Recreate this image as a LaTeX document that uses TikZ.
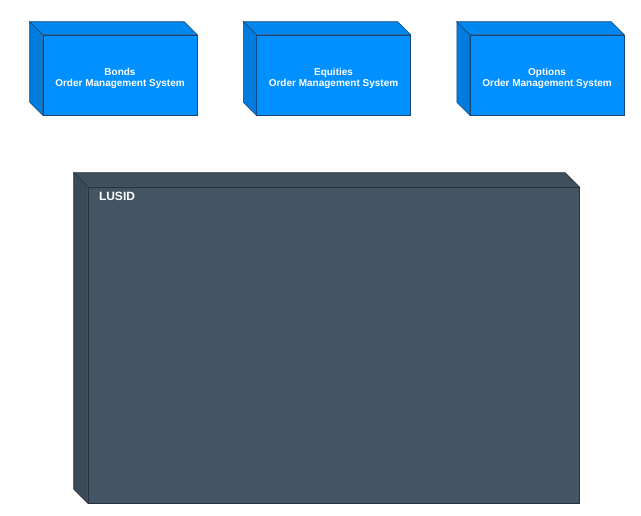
\documentclass[tikz,border=0pt]{standalone}
\usepackage{fontspec}
\setmainfont{Liberation Sans}
\usetikzlibrary{positioning}

\definecolor{omsfront}{RGB}{0,144,255}
\definecolor{omstop}{RGB}{0,135,240}
\definecolor{omsside}{RGB}{0,124,222}
\definecolor{omsedge}{RGB}{22,70,120}
\definecolor{lusidfront}{RGB}{67,85,101}
\definecolor{lusidtop}{RGB}{62,79,94}
\definecolor{lusidside}{RGB}{58,74,88}
\definecolor{lusidedge}{RGB}{40,50,60}

\begin{document}
\begin{tikzpicture}[
                x=0.75pt, y=-0.75pt,
                oms/.style={rectangle, draw=omsedge, fill=omsfront, minimum width=115.5pt, minimum height=60pt, inner sep=0pt},
                omstext/.style={text=white, font=\bfseries\fontsize{7.5}{8.25}\selectfont, align=center, inner sep=0pt},
                lusid/.style={rectangle, draw=lusidedge, fill=lusidfront, minimum width=368.25pt, minimum height=237pt, inner sep=0pt},
                label/.style={text=white, font=\bfseries\fontsize{9}{10}\selectfont, inner sep=0pt}
            ]
                \useasboundingbox (0,0) rectangle (641,515);

                % front faces
                \node[oms] (bonds) at (120,75) {};
                \node[oms, right=44.25pt of bonds] (equities) {};
                \node[oms, right=44.25pt of equities] (options) {};
                \node[lusid] (lusidbox) at (333.5,345) {};

                % top and left faces
                \foreach \n in {bonds, equities, options} {
                    \filldraw[draw=omsedge, fill=omstop] (\n.north west) -- ([shift={(-13,-13)}]\n.north west)
                        -- ([shift={(-13,-13)}]\n.north east) -- (\n.north east) -- cycle;
                    \filldraw[draw=omsedge, fill=omsside] (\n.north west) -- ([shift={(-13,-13)}]\n.north west)
                        -- ([shift={(-13,-13)}]\n.south west) -- (\n.south west) -- cycle;
                }
                \filldraw[draw=lusidedge, fill=lusidtop] (lusidbox.north west) -- ([shift={(-14,-14)}]lusidbox.north west)
                    -- ([shift={(-14,-14)}]lusidbox.north east) -- (lusidbox.north east) -- cycle;
                \filldraw[draw=lusidedge, fill=lusidside] (lusidbox.north west) -- ([shift={(-14,-14)}]lusidbox.north west)
                    -- ([shift={(-14,-14)}]lusidbox.south west) -- (lusidbox.south west) -- cycle;

                % texts
                \node[omstext] (bondsname) at ([yshift=-2.25pt]bonds.center) {Bonds\\Order Management System};
                \node[omstext] (equitiesname) at ([yshift=-2.25pt]equities.center) {Equities\\Order Management System};
                \node[omstext] (optionsname) at ([yshift=-2.25pt]options.center) {Options\\Order Management System};
                \node[label, anchor=west] (lusidname) at ([shift={(11,10)}]lusidbox.north west) {LUSID};

            \end{tikzpicture}
\end{document}
